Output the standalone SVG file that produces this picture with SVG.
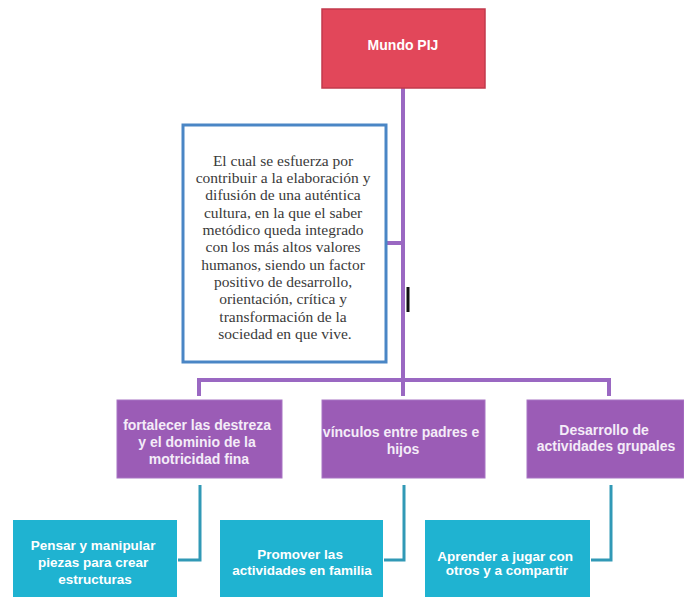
<svg xmlns="http://www.w3.org/2000/svg" width="684" height="597" viewBox="0 0 684 597">
  <style>
    .root { fill: #e2475a; stroke: #c23a4c; stroke-width: 1.5; }
    .note { fill: #ffffff; stroke: #4a86c5; stroke-width: 3; }
    .branch { fill: #9b5cb6; stroke: #a874c4; stroke-width: 1; }
    .leaf { fill: #1fb3d1; }
    .lbl { font-family: "Liberation Sans", Arial, sans-serif; fill: #ffffff; text-anchor: middle; }
    .root-lbl { font-size: 14px; font-weight: bold; }
    .branch-lbl { font-size: 14px; font-weight: bold; fill: #f4ecf8; }
    .leaf-lbl { font-size: 13.5px; font-weight: bold; }
    .note-lbl { font-family: "Liberation Serif", "Times New Roman", serif; font-size: 15.5px; fill: #3a3a3a; text-anchor: middle; }
    .wire-p { fill: none; stroke: #9a68c2; stroke-width: 4; }
    .wire-t { fill: none; stroke: #3199b6; stroke-width: 3; }
  </style>
  <rect width="684" height="597" fill="#ffffff"/>

  <g id="connectors">
    <path class="wire-p" d="M403 88 V380"/>
    <path class="wire-p" d="M386 243 H403"/>
    <path class="wire-p" d="M199 396 V380 H609 V396"/>
    <path class="wire-p" d="M403 380 V396"/>
    <path class="wire-t" d="M200 485 V560 H178"/>
    <path class="wire-t" d="M404 485 V560 H384"/>
    <path class="wire-t" d="M611 485 V560 H591"/>
  </g>

  <rect x="406.5" y="287" width="3" height="25" fill="#111111"/>

  <g id="root">
    <rect class="root" x="322" y="9" width="163" height="79"/>
    <text class="lbl root-lbl" x="403" y="50">Mundo PIJ</text>
  </g>

  <g id="note">
    <rect class="note" x="183" y="125" width="203" height="237"/>
    <text class="note-lbl">
      <tspan x="285" y="166">El cual se esfuerza por</tspan>
      <tspan x="285" y="183">contribuir a la elaboración y</tspan>
      <tspan x="285" y="200">difusión de una auténtica</tspan>
      <tspan x="285" y="218">cultura, en la que el saber</tspan>
      <tspan x="285" y="235">metódico queda integrado</tspan>
      <tspan x="285" y="252">con los más altos valores</tspan>
      <tspan x="285" y="270">humanos, siendo un factor</tspan>
      <tspan x="285" y="287">positivo de desarrollo,</tspan>
      <tspan x="285" y="304">orientación, crítica y</tspan>
      <tspan x="285" y="322">transformación de la</tspan>
      <tspan x="285" y="339">sociedad en que vive.</tspan>
    </text>
  </g>

  <g id="branch-1">
    <rect class="branch" x="117" y="400" width="165" height="78"/>
    <text class="lbl branch-lbl">
      <tspan x="199" y="430">fortalecer las destreza</tspan>
      <tspan x="199" y="447">y el dominio de la</tspan>
      <tspan x="199" y="464">motricidad fina</tspan>
    </text>
  </g>

  <g id="branch-2">
    <rect class="branch" x="322" y="400" width="163" height="78"/>
    <text class="lbl branch-lbl">
      <tspan x="403" y="437">vínculos entre padres e</tspan>
      <tspan x="403" y="454">hijos</tspan>
    </text>
  </g>

  <g id="branch-3">
    <rect class="branch" x="527" y="400" width="157" height="78"/>
    <text class="lbl branch-lbl">
      <tspan x="606" y="435">Desarrollo de</tspan>
      <tspan x="606" y="451">actividades grupales</tspan>
    </text>
  </g>

  <g id="leaf-1">
    <rect class="leaf" x="13" y="520" width="164" height="80"/>
    <text class="lbl leaf-lbl">
      <tspan x="95" y="550">Pensar y manipular</tspan>
      <tspan x="95" y="567">piezas para crear</tspan>
      <tspan x="95" y="584">estructuras</tspan>
    </text>
  </g>

  <g id="leaf-2">
    <rect class="leaf" x="220" y="520" width="163" height="80"/>
    <text class="lbl leaf-lbl">
      <tspan x="302" y="559">Promover las</tspan>
      <tspan x="302" y="575">actividades en familia</tspan>
    </text>
  </g>

  <g id="leaf-3">
    <rect class="leaf" x="425" y="520" width="165" height="80"/>
    <text class="lbl leaf-lbl">
      <tspan x="507" y="561">Aprender a jugar con</tspan>
      <tspan x="507" y="575">otros y a compartir</tspan>
    </text>
  </g>
</svg>
